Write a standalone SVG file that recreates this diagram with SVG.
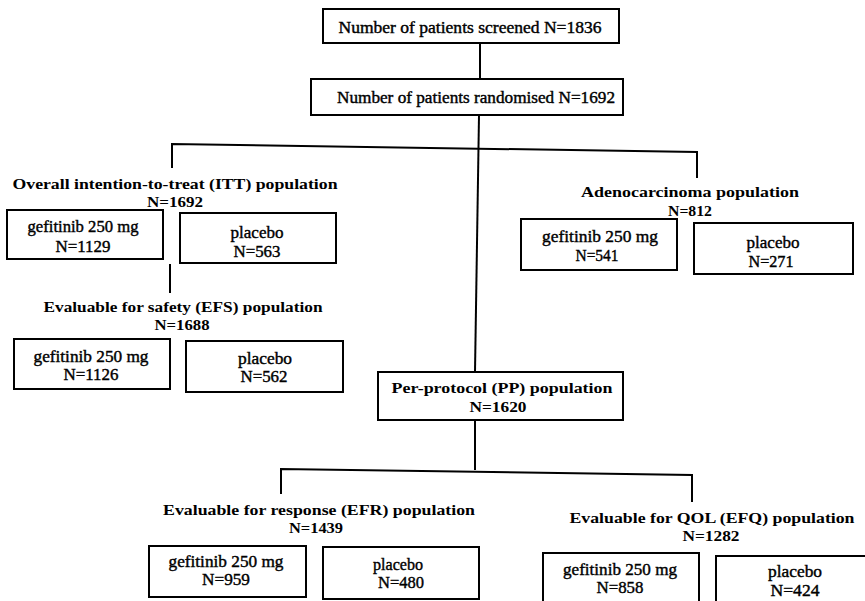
<svg xmlns="http://www.w3.org/2000/svg" width="865" height="601" viewBox="0 0 865 601">
<style>
.bx{fill:#fff;stroke:#000;stroke-width:2}
.ln{fill:none;stroke:#000;stroke-width:2}
text{font-family:"Liberation Serif","Times New Roman",serif;font-size:16.5px;fill:#000;text-anchor:middle}
.h{font-weight:bold;font-size:15.5px}
.r{font-weight:normal;stroke:#000;stroke-width:0.4}
</style>
<rect width="865" height="601" fill="#fff"/>
<g id="connectors">
<path class="ln" d="M480 42 V80"/>
<path class="ln" d="M479 115 L475 372"/>
<path class="ln" d="M172 168 V144 L697 152 V178"/>
<path class="ln" d="M170 264 V293"/>
<path class="ln" d="M475 420 V470"/>
<path class="ln" d="M281 494 V469 L692 475 V502"/>
</g>
<g id="screened">
<rect class="bx" x="323" y="9" width="296" height="34"/>
<text class="r" x="470" y="33" textLength="263" lengthAdjust="spacingAndGlyphs">Number of patients screened N=1836</text>
</g>
<g id="randomised">
<rect class="bx" x="311" y="79" width="312" height="36"/>
<text class="r" x="476" y="103" textLength="278" lengthAdjust="spacingAndGlyphs">Number of patients randomised N=1692</text>
</g>
<g id="itt">
<text class="h" x="175" y="189" textLength="325" lengthAdjust="spacingAndGlyphs">Overall intention-to-treat (ITT) population</text>
<text class="h" x="175" y="207" textLength="56" lengthAdjust="spacingAndGlyphs">N=1692</text>
</g>
<g id="itt-gef">
<rect class="bx" x="7" y="210" width="156" height="49"/>
<text class="r" x="83" y="232" textLength="111" lengthAdjust="spacingAndGlyphs">gefitinib 250 mg</text>
<text class="r" x="83" y="252" textLength="55" lengthAdjust="spacingAndGlyphs">N=1129</text>
</g>
<g id="itt-pla">
<rect class="bx" x="180" y="213" width="156" height="50"/>
<text class="r" x="257" y="238" textLength="53" lengthAdjust="spacingAndGlyphs">placebo</text>
<text class="r" x="257" y="257" textLength="47" lengthAdjust="spacingAndGlyphs">N=563</text>
</g>
<g id="adeno">
<text class="h" x="690" y="197" textLength="218" lengthAdjust="spacingAndGlyphs">Adenocarcinoma population</text>
<text class="h" x="690" y="216" textLength="44" lengthAdjust="spacingAndGlyphs">N=812</text>
</g>
<g id="adeno-gef">
<rect class="bx" x="521" y="219" width="156" height="51"/>
<text class="r" x="600" y="242" textLength="116" lengthAdjust="spacingAndGlyphs">gefitinib 250 mg</text>
<text class="r" x="597" y="261" textLength="43" lengthAdjust="spacingAndGlyphs">N=541</text>
</g>
<g id="adeno-pla">
<rect class="bx" x="694" y="223" width="159" height="51"/>
<text class="r" x="773" y="248" textLength="53" lengthAdjust="spacingAndGlyphs">placebo</text>
<text class="r" x="771" y="267" textLength="45" lengthAdjust="spacingAndGlyphs">N=271</text>
</g>
<g id="efs">
<text class="h" x="183" y="312" textLength="279" lengthAdjust="spacingAndGlyphs">Evaluable for safety (EFS) population</text>
<text class="h" x="182" y="330" textLength="55" lengthAdjust="spacingAndGlyphs">N=1688</text>
</g>
<g id="efs-gef">
<rect class="bx" x="14" y="339" width="156" height="50"/>
<text class="r" x="91" y="362" textLength="115" lengthAdjust="spacingAndGlyphs">gefitinib 250 mg</text>
<text class="r" x="91" y="380" textLength="55" lengthAdjust="spacingAndGlyphs">N=1126</text>
</g>
<g id="efs-pla">
<rect class="bx" x="186" y="341" width="157" height="51"/>
<text class="r" x="265" y="364" textLength="54" lengthAdjust="spacingAndGlyphs">placebo</text>
<text class="r" x="264" y="382" textLength="47" lengthAdjust="spacingAndGlyphs">N=562</text>
</g>
<g id="pp">
<rect class="bx" x="378" y="372" width="245" height="48"/>
<text class="h" x="502" y="393" textLength="221" lengthAdjust="spacingAndGlyphs">Per-protocol (PP) population</text>
<text class="h" x="498" y="412" textLength="57" lengthAdjust="spacingAndGlyphs">N=1620</text>
</g>
<g id="efr">
<text class="h" x="319" y="515" textLength="312" lengthAdjust="spacingAndGlyphs">Evaluable for response (EFR) population</text>
<text class="h" x="316" y="533" textLength="54" lengthAdjust="spacingAndGlyphs">N=1439</text>
</g>
<g id="efr-gef">
<rect class="bx" x="149" y="546" width="157" height="51"/>
<text class="r" x="226" y="567" textLength="115" lengthAdjust="spacingAndGlyphs">gefitinib 250 mg</text>
<text class="r" x="226" y="585" textLength="48" lengthAdjust="spacingAndGlyphs">N=959</text>
</g>
<g id="efr-pla">
<rect class="bx" x="323" y="547" width="156" height="52"/>
<text class="r" x="398" y="570" textLength="50" lengthAdjust="spacingAndGlyphs">placebo</text>
<text class="r" x="401" y="588" textLength="46" lengthAdjust="spacingAndGlyphs">N=480</text>
</g>
<g id="efq">
<text class="h" x="712" y="523" textLength="285" lengthAdjust="spacingAndGlyphs">Evaluable for QOL (EFQ) population</text>
<text class="h" x="711" y="541" textLength="57" lengthAdjust="spacingAndGlyphs">N=1282</text>
</g>
<g id="efq-gef">
<rect class="bx" x="543" y="553" width="156" height="52"/>
<text class="r" x="620" y="575" textLength="114" lengthAdjust="spacingAndGlyphs">gefitinib 250 mg</text>
<text class="r" x="620" y="593" textLength="47" lengthAdjust="spacingAndGlyphs">N=858</text>
</g>
<g id="efq-pla">
<rect class="bx" x="716" y="556" width="155" height="52"/>
<text class="r" x="795" y="577" textLength="54" lengthAdjust="spacingAndGlyphs">placebo</text>
<text class="r" x="795" y="596" textLength="49" lengthAdjust="spacingAndGlyphs">N=424</text>
</g>
</svg>
